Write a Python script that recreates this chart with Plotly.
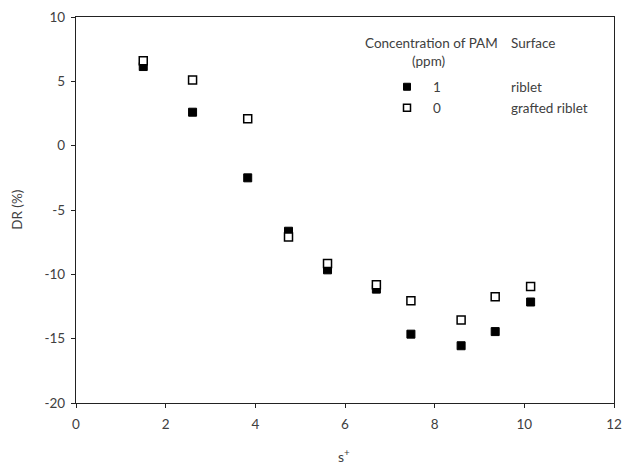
import plotly.graph_objects as go

# Data
s_plus = [1.5, 2.6, 3.83, 4.74, 5.61, 6.7, 7.47, 8.59, 9.35, 10.14]
dr_riblet = [6.15, 2.6, -2.5, -6.65, -9.65, -11.15, -14.65, -15.55, -14.45, -12.15]
dr_grafted = [6.6, 5.1, 2.1, -7.1, -9.15, -10.8, -12.05, -13.55, -11.75, -10.95]
x_ticks = [0, 2, 4, 6, 8, 10, 12]
y_ticks = [-20, -15, -10, -5, 0, 5, 10]
y_ticktext = ["-20", "-15", "-10", "-5", "0", "5", "10"]

FONT = "Lato"
TXT = "#404040"

fig = go.Figure()
fig.add_trace(go.Scatter(
    x=s_plus, y=dr_riblet, mode="markers", name="1 riblet",
    marker=dict(symbol="square", size=8, color="black",
                line=dict(color="black", width=1)),
))
fig.add_trace(go.Scatter(
    x=s_plus, y=dr_grafted, mode="markers", name="0 grafted riblet",
    marker=dict(symbol="square", size=8, color="white",
                line=dict(color="black", width=1.5)),
))

L, R, T, B = 76, 614, 17.3, 403
W, H = R - L, B - T

def px(x):
    return (x - L) / W

def py(y):
    return (B - y) / H

annots = [
    dict(text="Concentration of PAM", x=px(431), y=py(43), xanchor="center"),
    dict(text="(ppm)", x=px(428), y=py(61), xanchor="center"),
    dict(text="Surface", x=px(509), y=py(43), xanchor="left"),
    dict(text="1", x=px(437), y=py(87), xanchor="center"),
    dict(text="0", x=px(437), y=py(108), xanchor="center"),
    dict(text="riblet", x=px(509), y=py(87), xanchor="left"),
    dict(text="grafted riblet", x=px(509), y=py(108), xanchor="left"),
    dict(text="s<sup>+</sup>", x=px(344), y=py(455), xanchor="center", font_size=14),
    dict(text="DR (%)", x=px(17), y=py(210), xanchor="center", textangle=-90),
]
for a in annots:
    font = dict(family=FONT, size=a.pop("font_size", 13.5), color=TXT)
    fig.add_annotation(xref="paper", yref="paper", showarrow=False,
                       yanchor="middle", font=font, **a)

hs = 3.5
for yy, fill, lw in [(87, "black", 1), (108, "white", 1.5)]:
    fig.add_shape(type="rect", xref="paper", yref="paper",
                  x0=px(407 - hs), x1=px(407 + hs), y0=py(yy + hs), y1=py(yy - hs),
                  fillcolor=fill, line=dict(color="black", width=lw))

axis_common = dict(showgrid=False, zeroline=False, showline=True, linecolor="#222",
                   linewidth=1.3, mirror=True, ticks="outside", ticklen=4,
                   tickcolor="#222", tickwidth=1.3, automargin=False,
                   tickfont=dict(family=FONT, size=13.5, color=TXT))

fig.update_layout(
    width=623, height=466,
    margin=dict(l=L, r=623 - R, t=T, b=466 - B),
    paper_bgcolor="white", plot_bgcolor="white",
    showlegend=False,
    xaxis=dict(range=[0, 12], tickvals=x_ticks, ticklabelstandoff=5, **axis_common),
    yaxis=dict(range=[-20, 10], tickvals=y_ticks, ticktext=y_ticktext,
               ticklabelstandoff=3, **axis_common),
)

fig.write_html("out.html")
